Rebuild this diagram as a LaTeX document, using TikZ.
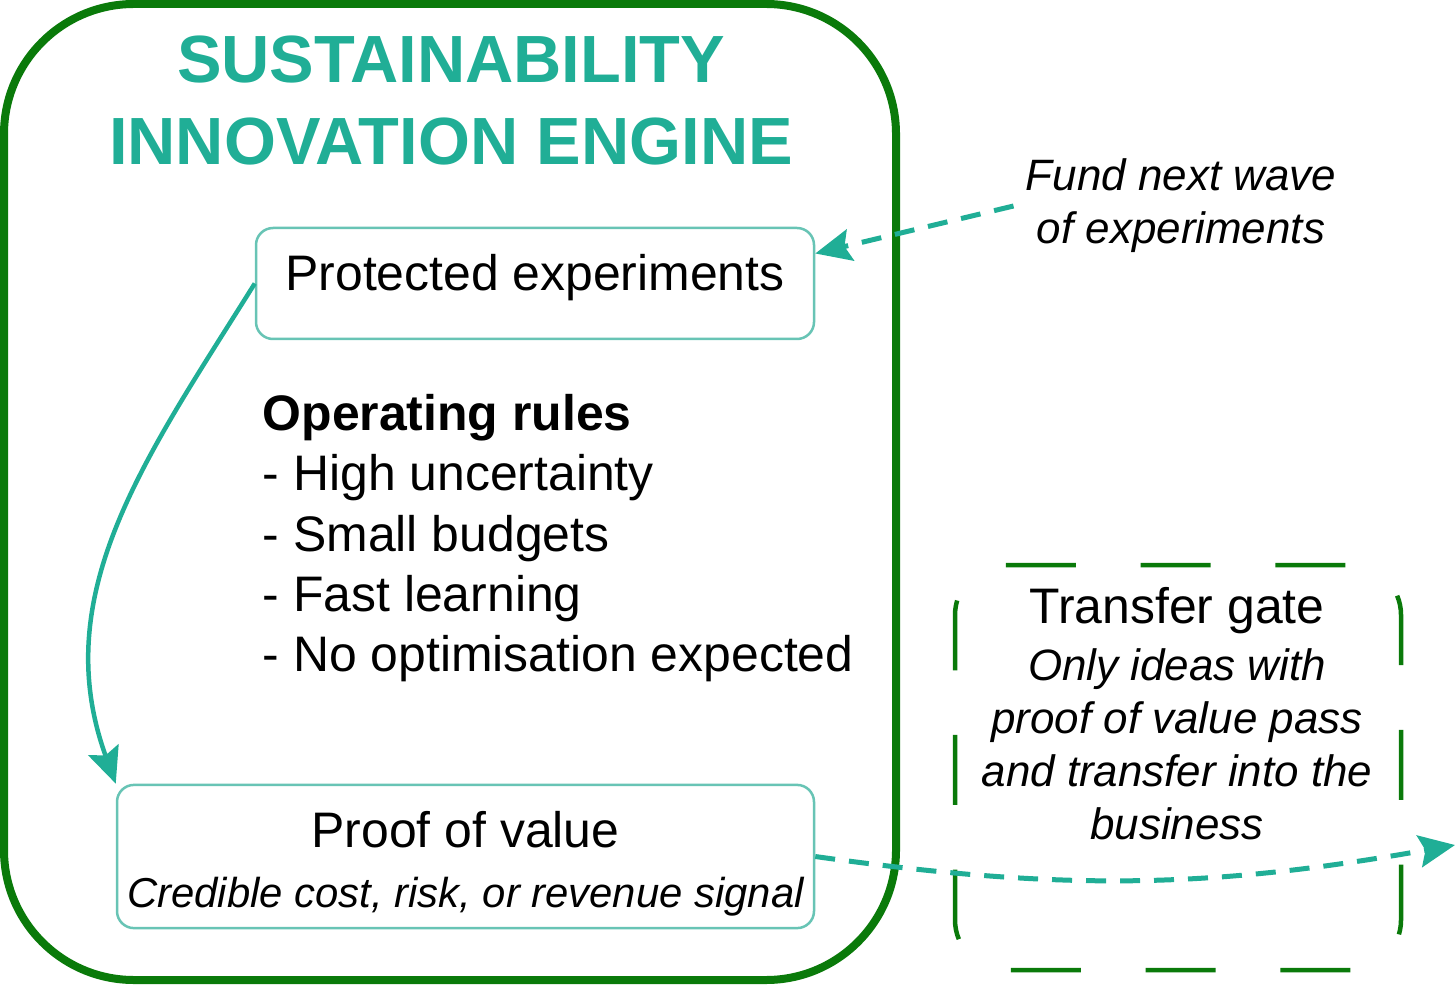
\documentclass[tikz,border=0pt]{standalone}
\usepackage{fontspec}
\setmainfont{Liberation Sans}
\usetikzlibrary{arrows.meta, positioning}
\definecolor{engteal}{RGB}{32,174,150}
\definecolor{boxteal}{RGB}{104,196,181}
\definecolor{enggreen}{RGB}{10,122,10}
\tikzstyle{engine}=[draw=enggreen, line width=0.08cm, rounded corners=1.3cm, minimum width=8.92cm, minimum height=9.76cm, inner sep=0]
\tikzstyle{block}=[draw=boxteal, line width=0.025cm, rounded corners=0.17cm, fill=white]
\tikzstyle{gatebox}=[draw=enggreen, line width=0.045cm, rounded corners=0.5cm, dash pattern=on 0.7cm off 0.647cm, dash phase=1.29cm, minimum width=4.46cm, minimum height=4.05cm]
\tikzstyle{flow}=[draw=engteal, line width=0.045cm, ->]
\tikzstyle{flowdash}=[flow, line width=0.05cm, dash pattern=on 0.2cm off 0.14cm]
\newcommand{\bigtxt}{\fontsize{14.2}{17.1}\selectfont}
\newcommand{\smalltxt}{\fontsize{12.5}{15.1}\selectfont\itshape}

\begin{document}
\begin{tikzpicture}[>={Stealth[length=0.36cm, width=0.32cm, inset=0.06cm]}]
    \useasboundingbox (0,0) rectangle (14.56,9.87);
    % engine
    \node[engine] (engine) at (4.50,4.95) {};
    \node[anchor=north, inner sep=0, align=center, text=engteal, font=\bfseries\fontsize{19}{23.3}\selectfont] (title) at (4.51,9.52) {SUSTAINABILITY\\INNOVATION ENGINE};
    \node[block, minimum width=5.58cm, text height=0.36cm, text depth=0.21cm, inner ysep=0.27cm, font=\bigtxt] (protect) at (5.35,7.035) {Protected experiments};
    \node[anchor=north west, inner sep=0, align=left, font=\bigtxt] (rules) at (2.62,5.93) {\textbf{Operating rules}\\- High uncertainty\\- Small budgets\\- Fast learning\\- No optimisation expected};
    \node[block, minimum width=6.97cm, minimum height=1.39cm, inner xsep=0.08cm, align=center, font=\bigtxt] (proof) at (4.655,1.305) {\rule{0pt}{0.51cm}Proof of value\\{\fontsize{11.9}{14}\selectfont\itshape Credible cost, risk, or revenue signal}};
    % outside
    \node[align=center, font=\smalltxt] (fund) at (11.81,7.81) {Fund next wave\\of experiments};
    \node[gatebox] (gate) at (11.78,2.195) {};
    \node[anchor=north, inner sep=0, align=center, font=\smalltxt] (gatetext) at (11.77,4.005) {{\bigtxt\upshape Transfer gate}\\[0.04cm]Only ideas with\\proof of value pass\\and transfer into the\\business};
    \coordinate (exit) at (14.55,1.42);
    \draw[flowdash] (fund.west) -- ([yshift=0.3cm]protect.east);
    \draw[flow] (protect.west) to[out=238, in=110] (proof.north west);
    \draw[flowdash] (proof.east) to[out=-8, in=190] (exit);
\end{tikzpicture}
\end{document}
